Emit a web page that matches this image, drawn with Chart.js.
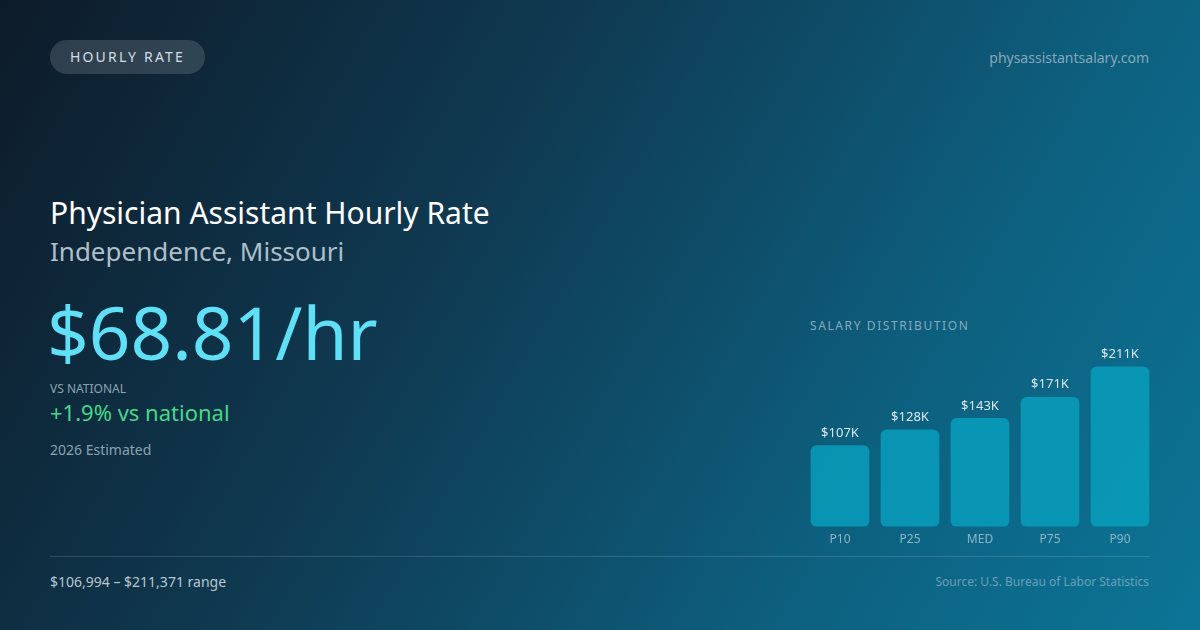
<!DOCTYPE html>
<html>
<head>
<meta charset="utf-8">
<script src="https://cdn.jsdelivr.net/npm/chart.js@4.4.1/dist/chart.umd.min.js"></script>
<style>
  html,body{margin:0;padding:0;}
  body{width:1200px;height:630px;overflow:hidden;font-family:"Noto Sans",sans-serif;
    background:linear-gradient(120deg,#0d1b29 0%,#0f3a52 38%,#0d5f7e 72%,#0c7597 100%);position:relative;}
  .abs{position:absolute;white-space:nowrap;}
  .pill{left:50px;top:40px;width:155px;height:34px;border-radius:17px;background:rgba(255,255,255,0.14);
    color:#d3dee6;font-size:14px;letter-spacing:2.2px;line-height:34px;text-align:center;}
  .domain{right:51px;top:48px;font-size:14px;color:#86a8b9;}
  .title{left:50px;top:193px;font-size:30px;color:#ffffff;line-height:40px;}
  .sub{left:50px;top:233px;font-size:26px;color:#aebfca;line-height:36px;}
  .big{left:47px;top:286px;font-size:73px;color:#5fe0f7;line-height:92px;}
  .vsl{left:50px;top:380px;font-size:12px;color:#8ea3b1;}
  .vs{left:50px;top:397px;font-size:22px;color:#48d78a;line-height:30px;}
  .est{left:50px;top:440px;font-size:14px;color:#8ba2b0;}
  .dist{left:810px;top:317px;font-size:12px;letter-spacing:1.6px;color:#86aabd;}
  .rule{left:50px;top:556px;width:1100px;height:1px;background:rgba(255,255,255,0.14);}
  .range{left:50px;top:572px;font-size:14px;color:#b6c8d2;}
  .src{right:51px;top:573px;font-size:12px;color:#6aa0b6;}
  #wrap{position:absolute;left:805px;top:345px;width:350px;height:208px;}
</style>
</head>
<body>
<div class="abs pill">HOURLY RATE</div>
<div class="abs domain">physassistantsalary.com</div>
<div class="abs title">Physician Assistant Hourly Rate</div>
<div class="abs sub">Independence, Missouri</div>
<div class="abs big">$68.81/hr</div>
<div class="abs vsl">VS NATIONAL</div>
<div class="abs vs">+1.9% vs national</div>
<div class="abs est">2026 Estimated</div>
<div class="abs dist">SALARY DISTRIBUTION</div>
<div class="abs rule"></div>
<div class="abs range">$106,994 – $211,371 range</div>
<div class="abs src">Source: U.S. Bureau of Labor Statistics</div>
<div id="wrap"><canvas id="c"></canvas></div>
<script>
const categories = ["P10", "P25", "MED", "P75", "P90"];
const salaryK = [107, 128, 143, 171, 211];
const valueLabels = ["$107K", "$128K", "$143K", "$171K", "$211K"];

const valueLabelPlugin = {
  id: 'valueLabels',
  afterDatasetsDraw(chart) {
    const ctx = chart.ctx;
    const meta = chart.getDatasetMeta(0);
    ctx.save();
    ctx.font = '13px "Noto Sans", sans-serif';
    ctx.fillStyle = '#d9e7ee';
    ctx.textAlign = 'center';
    ctx.textBaseline = 'bottom';
    meta.data.forEach((bar, i) => {
      ctx.fillText(valueLabels[i], bar.x, bar.y - 6);
    });
    ctx.restore();
  }
};

new Chart(document.getElementById('c'), {
  type: 'bar',
  data: {
    labels: categories,
    datasets: [{
      data: salaryK,
      backgroundColor: 'rgba(8,160,190,0.82)',
      borderRadius: 6,
      borderSkipped: false,
      barThickness: 58
    }]
  },
  options: {
    responsive: true,
    maintainAspectRatio: false,
    animation: false,
    layout: { padding: 0 },
    plugins: { legend: { display: false }, tooltip: { enabled: false } },
    scales: {
      x: {
        grid: { display: false, drawTicks: false },
        border: { display: false },
        ticks: { color: '#8db6c8', font: { size: 12, family: 'Noto Sans' }, padding: 6 }
      },
      y: {
        display: false,
        min: 0,
        max: 240
      }
    }
  },
  plugins: [valueLabelPlugin]
});
</script>
</body>
</html>
